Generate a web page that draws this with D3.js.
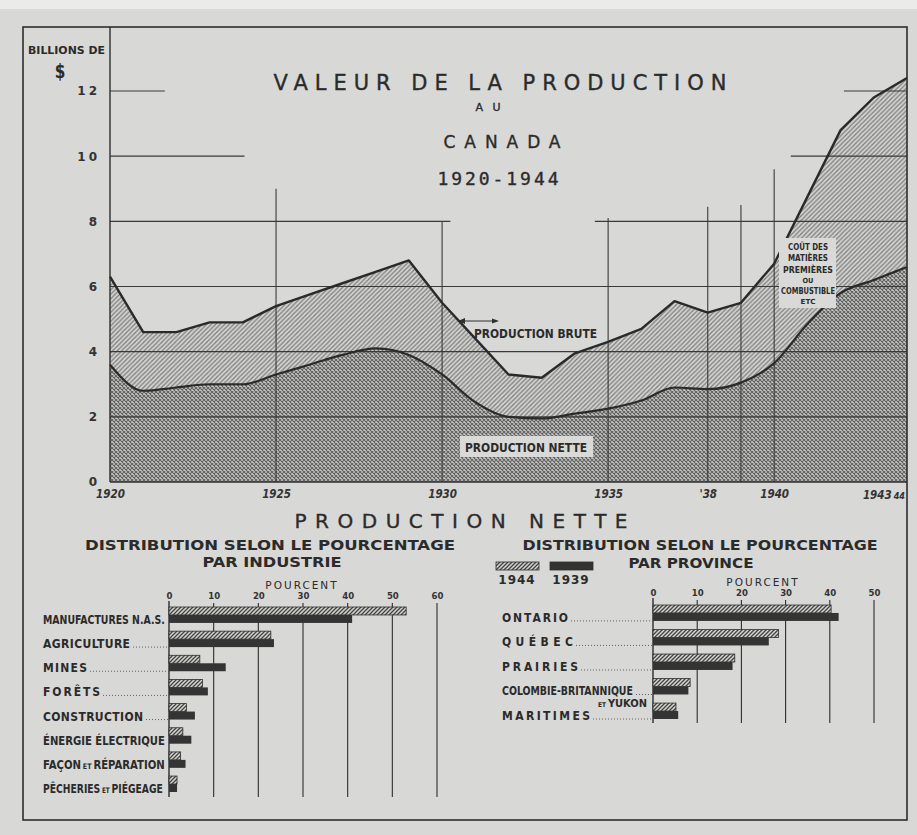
<!DOCTYPE html>
<html>
<head>
<meta charset="utf-8">
<script src="https://cdn.jsdelivr.net/npm/d3@7"></script>
<style>
  body { margin: 0; background: #d8d8d6; }
  svg { display: block; }
  .cond { font-family: 'DejaVu Sans Condensed', 'DejaVu Sans', sans-serif; font-stretch: condensed; font-weight: bold; fill: #2b2b2b; }
  .wide { font-family: 'DejaVu Sans', sans-serif; fill: #2b2b2b; }
</style>
</head>
<body>
<svg id="chart" width="917" height="835"></svg>
<script>
// --- data (billions de $) ---
const years = [1920, 1921, 1922, 1923, 1924, 1925, 1926, 1927, 1928, 1929, 1930, 1931, 1932,
  1933, 1934, 1935, 1936, 1937, 1938, 1939, 1940, 1941, 1942, 1943, 1944];
const grossValues = [6.3, 4.6, 4.6, 4.9, 4.9, 5.4, 5.75, 6.1, 6.45, 6.8, 5.5, 4.4, 3.3,
  3.2, 3.95, 4.3, 4.7, 5.55, 5.2, 5.5, 6.7, 8.75, 10.8, 11.8, 12.4];
const netValues = [3.6, 2.8, 2.9, 3.0, 3.0, 3.3, 3.6, 3.9, 4.1, 3.9, 3.3, 2.45, 2.0,
  1.95, 2.1, 2.25, 2.5, 2.9, 2.85, 3.05, 3.65, 4.85, 5.8, 6.2, 6.6];
const yTicks = [0, 2, 4, 6, 8, 10, 12];
const xTickYears = [1920, 1925, 1930, 1935, 1938, 1940];
const xTickLabels = ['1920', '1925', '1930', '1935', "'38", '1940'];

// percent of net production, by industry
const industries = ['MANUFACTURES N.A.S.', 'AGRICULTURE', 'MINES', 'FORÊTS', 'CONSTRUCTION',
  'ÉNERGIE ÉLECTRIQUE', 'FAÇON ET RÉPARATION', 'PÊCHERIES ET PIÉGEAGE'];
const industry1944 = [53.1, 22.8, 6.9, 7.5, 3.9, 3.1, 2.6, 1.8];
const industry1939 = [41.0, 23.5, 12.7, 8.7, 5.8, 5.0, 3.7, 1.8];
const industryTicks = [0, 10, 20, 30, 40, 50, 60];

// percent of net production, by province
const provinces = ['ONTARIO', 'QUÉBEC', 'PRAIRIES', 'COLOMBIE-BRITANNIQUE ET YUKON', 'MARITIMES'];
const province1944 = [40.3, 28.4, 18.5, 8.4, 5.2];
const province1939 = [42.0, 26.2, 18.0, 8.0, 5.7];
const provinceTicks = [0, 10, 20, 30, 40, 50];

const ink = '#2e2e2e';
const svg = d3.select('#chart');
const defs = svg.append('defs');

// diagonal hatch for "cout des matieres"
const hatch = defs.append('pattern')
  .attr('id', 'hatch')
  .attr('patternUnits', 'userSpaceOnUse')
  .attr('width', 4.5)
  .attr('height', 4.5);
hatch.append('rect').attr('width', 4.5).attr('height', 4.5).attr('fill', '#d3d3d1');
hatch.append('path')
  .attr('d', 'M-1,1 l2,-2 M0,4.5 l4.5,-4.5 M3.5,5.5 l2,-2')
  .attr('stroke', '#7c7c7c')
  .attr('stroke-width', 1.2);

// fine crosshatch for net production
const cross = defs.append('pattern')
  .attr('id', 'cross')
  .attr('patternUnits', 'userSpaceOnUse')
  .attr('width', 4)
  .attr('height', 4);
cross.append('rect').attr('width', 4).attr('height', 4).attr('fill', '#c8c8c6');
cross.append('path')
  .attr('d', 'M0,0 L4,4 M4,0 L0,4')
  .attr('stroke', '#626262')
  .attr('stroke-width', 1.1);

// denser hatch for the 1944 bars
const barHatch = defs.append('pattern')
  .attr('id', 'bar-hatch')
  .attr('patternUnits', 'userSpaceOnUse')
  .attr('width', 4)
  .attr('height', 4);
barHatch.append('rect').attr('width', 4).attr('height', 4).attr('fill', '#d4d4d2');
barHatch.append('path')
  .attr('d', 'M-1,1 l2,-2 M0,4 l4,-4 M3,5 l2,-2')
  .attr('stroke', '#444')
  .attr('stroke-width', 1.3);

// lighter strip at the very top of the scan
svg.append('rect').attr('width', 917).attr('height', 9).attr('fill', '#ebebea');

// ---------- main chart ----------
const x = d3.scaleLinear().domain([1920, 1944]).range([110, 907]);
const y = d3.scaleLinear().domain([0, 12]).range([482, 91]);

const series = years.map((yr, i) => ({ year: yr, gross: grossValues[i], net: netValues[i] }));

const grossArea = d3.area()
  .x((d) => x(d.year))
  .y0(y(0))
  .y1((d) => y(d.gross));
const netArea = d3.area()
  .curve(d3.curveMonotoneX)
  .x((d) => x(d.year))
  .y0(y(0))
  .y1((d) => y(d.net));

// gross area is drawn to the axis, net sits on top of it
svg.append('path')
  .datum(series)
  .attr('d', grossArea)
  .attr('fill', 'url(#hatch)');
svg.append('path')
  .datum(series)
  .attr('d', netArea)
  .attr('fill', 'url(#cross)');

// grid: horizontal lines are broken around the title
const hGrid = [
  [2, 1920, 1944], [4, 1920, 1944], [6, 1920, 1944],
  [8, 1920, 1930.25], [8, 1934.6, 1944],
  [10, 1920, 1924.05], [10, 1940.5, 1944],
  [12, 1920, 1921.65], [12, 1942.1, 1944],
];
svg.append('g')
  .selectAll('line')
  .data(hGrid)
  .join('line')
  .attr('x1', (d) => x(d[1]))
  .attr('x2', (d) => x(d[2]))
  .attr('y1', (d) => y(d[0]))
  .attr('y2', (d) => y(d[0]))
  .attr('stroke', '#3a3a3a')
  .attr('stroke-width', 1.1);

const vGrid = [[1925, 9.0], [1930, 8.0], [1935, 8.1], [1938, 8.45], [1939, 8.5], [1940, 9.6]];
svg.append('g')
  .selectAll('line')
  .data(vGrid)
  .join('line')
  .attr('x1', (d) => x(d[0]))
  .attr('x2', (d) => x(d[0]))
  .attr('y1', (d) => y(d[1]))
  .attr('y2', y(0))
  .attr('stroke', '#3a3a3a')
  .attr('stroke-width', 1.1);

// outlines
svg.append('path')
  .datum(series)
  .attr('d', d3.line().x((d) => x(d.year)).y((d) => y(d.gross)))
  .attr('fill', 'none')
  .attr('stroke', '#2a2a2a')
  .attr('stroke-width', 2.4)
  .attr('stroke-linejoin', 'round');
svg.append('path')
  .datum(series)
  .attr('d', d3.line().curve(d3.curveMonotoneX).x((d) => x(d.year)).y((d) => y(d.net)))
  .attr('fill', 'none')
  .attr('stroke', '#2a2a2a')
  .attr('stroke-width', 2.2);

// frame
svg.append('rect')
  .attr('x', 23).attr('y', 27)
  .attr('width', 884).attr('height', 793)
  .attr('fill', 'none')
  .attr('stroke', ink)
  .attr('stroke-width', 1.6);
svg.append('line')
  .attr('x1', 110).attr('x2', 110)
  .attr('y1', 27).attr('y2', y(0))
  .attr('stroke', ink).attr('stroke-width', 1.4);
svg.append('line')
  .attr('x1', 110).attr('x2', 907)
  .attr('y1', y(0)).attr('y2', y(0))
  .attr('stroke', ink).attr('stroke-width', 1.6);

// y axis
const yAxis = svg.append('g')
  .attr('transform', 'translate(110,0)')
  .call(d3.axisLeft(y).tickValues(yTicks).tickSize(0).tickPadding(10));
yAxis.select('.domain').remove();
yAxis.selectAll('text')
  .attr('font-family', "'DejaVu Sans', sans-serif")
  .attr('font-weight', 'bold')
  .attr('font-size', 12)
  .attr('letter-spacing', 3)
  .attr('fill', '#333');

svg.append('text')
  .attr('class', 'cond')
  .attr('x', 28).attr('y', 54)
  .attr('font-size', 10.5)
  .attr('textLength', 77)
  .attr('lengthAdjust', 'spacingAndGlyphs')
  .text('BILLIONS DE');
svg.append('text')
  .attr('class', 'cond')
  .attr('x', 60).attr('y', 78)
  .attr('text-anchor', 'middle')
  .attr('font-size', 17)
  .attr('transform', 'translate(0,-12) scale(1,1.15)')
  .text('$');

// x axis
const xAxis = svg.append('g')
  .attr('transform', `translate(0,${y(0)})`)
  .call(d3.axisBottom(x)
    .tickValues(xTickYears)
    .tickFormat((d, i) => xTickLabels[i])
    .tickSize(0)
    .tickPadding(8));
xAxis.select('.domain').remove();
xAxis.selectAll('text')
  .attr('font-family', "'DejaVu Sans Condensed', sans-serif")
  .attr('font-style', 'italic')
  .attr('font-weight', 'bold')
  .attr('font-size', 11.5)
  .attr('fill', '#333')
  .attr('dy', '0.72em');
const lastTick = svg.append('text')
  .attr('x', x(1944) - 2)
  .attr('y', y(0) + 17)
  .attr('text-anchor', 'end')
  .attr('font-family', "'DejaVu Sans Condensed', sans-serif")
  .attr('font-style', 'italic')
  .attr('font-weight', 'bold')
  .attr('font-size', 11.5)
  .attr('fill', '#333')
  .text('1943');
lastTick.append('tspan').attr('font-size', 9).attr('dx', 2).text('44');

// titles: letter-spaced, glyphs kept at natural width
function title(txt, cx, by, size, len, family) {
  return svg.append('text')
    .attr('x', cx).attr('y', by)
    .attr('text-anchor', 'middle')
    .attr('font-family', family || "'DejaVu Sans', sans-serif")
    .attr('font-size', size)
    .attr('fill', '#2b2b2b')
    .attr('stroke', '#2b2b2b')
    .attr('stroke-width', 0.35)
    .attr('textLength', len)
    .attr('lengthAdjust', 'spacing')
    .text(txt);
}
title('VALEUR DE LA PRODUCTION', 500, 90, 21, 453);
title('AU', 488, 111, 11, 25);
title('CANADA', 502, 148, 17, 117);
title('1920-1944', 498, 185, 18, 121, "'DejaVu Sans Mono', monospace");

// in-chart labels
svg.append('text')
  .attr('class', 'cond')
  .attr('x', 474).attr('y', 338)
  .attr('font-size', 12)
  .attr('textLength', 123)
  .attr('lengthAdjust', 'spacingAndGlyphs')
  .text('PRODUCTION BRUTE');
svg.append('line')
  .attr('x1', 460).attr('x2', 497)
  .attr('y1', 321).attr('y2', 321)
  .attr('stroke', ink).attr('stroke-width', 1.2);
svg.append('path')
  .attr('d', 'M458,321 l7,-3 l0,6 Z M499,321 l-7,-2.5 l0,5 Z')
  .attr('fill', ink);

svg.append('rect')
  .attr('x', 460).attr('y', 436)
  .attr('width', 133).attr('height', 21)
  .attr('fill', '#d9d9d7');
svg.append('text')
  .attr('class', 'cond')
  .attr('x', 465).attr('y', 452)
  .attr('font-size', 12)
  .attr('textLength', 122)
  .attr('lengthAdjust', 'spacingAndGlyphs')
  .text('PRODUCTION NETTE');

svg.append('rect')
  .attr('x', 779).attr('y', 238)
  .attr('width', 57).attr('height', 70)
  .attr('fill', '#d9d9d7');
const costLines = [['COÛT DES', 250, 9.5, 40], ['MATIÈRES', 261, 9.5, 40], ['PREMIÈRES', 273, 9.5, 50],
  ['OU', 283, 7, 11], ['COMBUSTIBLE', 294, 9.5, 54], ['ETC', 304, 7, 15]];
svg.append('g')
  .selectAll('text')
  .data(costLines)
  .join('text')
  .attr('class', 'cond')
  .attr('x', 808)
  .attr('y', (d) => d[1])
  .attr('text-anchor', 'middle')
  .attr('font-size', (d) => d[2])
  .attr('textLength', (d) => d[3])
  .attr('lengthAdjust', 'spacingAndGlyphs')
  .text((d) => d[0]);

// ---------- lower section ----------
title('PRODUCTION NETTE', 461, 528, 20, 333);

function subTitle(txt, cx, by, len) {
  svg.append('text')
    .attr('class', 'cond')
    .attr('x', cx).attr('y', by)
    .attr('text-anchor', 'middle')
    .attr('font-size', 14)
    .attr('textLength', len)
    .attr('lengthAdjust', 'spacingAndGlyphs')
    .text(txt);
}
subTitle('DISTRIBUTION SELON LE POURCENTAGE', 270, 550, 370);
subTitle('PAR INDUSTRIE', 272, 567, 139);
subTitle('DISTRIBUTION SELON LE POURCENTAGE', 700, 550, 355);
subTitle('PAR PROVINCE', 691, 568, 125);

// legend
const legendKeys = ['1944', '1939'];
const legend = svg.append('g')
  .selectAll('g')
  .data(legendKeys)
  .join('g')
  .attr('transform', (d, i) => `translate(${496 + i * 54},562)`);
legend.append('rect')
  .attr('width', 43).attr('height', 8)
  .attr('fill', (d, i) => (i === 0 ? 'url(#bar-hatch)' : '#333'))
  .attr('stroke', ink).attr('stroke-width', 0.8);
legend.append('text')
  .attr('class', 'wide')
  .attr('x', 21).attr('y', 22)
  .attr('text-anchor', 'middle')
  .attr('font-weight', 'bold')
  .attr('font-size', 12)
  .attr('letter-spacing', 1)
  .text((d) => d);

function barChart(opts) {
  const g = svg.append('g');
  const bx = d3.scaleLinear().domain([0, opts.ticks[opts.ticks.length - 1]]).range(opts.xRange);
  const by = d3.scaleBand().domain(opts.cats).range(opts.yRange).paddingInner(opts.pad);
  const half = by.bandwidth() / 2;

  g.append('text')
    .attr('class', 'wide')
    .attr('x', opts.titleX).attr('y', opts.titleY)
    .attr('text-anchor', 'middle')
    .attr('font-size', 10.5)
    .attr('letter-spacing', 2)
    .text('POURCENT');

  const axis = g.append('g')
    .attr('transform', `translate(0,${opts.tickY})`)
    .call(d3.axisTop(bx).tickValues(opts.ticks).tickSize(0).tickPadding(0));
  axis.select('.domain').remove();
  axis.selectAll('text')
    .attr('font-family', "'DejaVu Sans Condensed', sans-serif")
    .attr('font-weight', 'bold')
    .attr('font-size', 9.5)
    .attr('fill', '#333');

  g.append('g')
    .selectAll('line')
    .data(opts.ticks)
    .join('line')
    .attr('x1', (d) => bx(d))
    .attr('x2', (d) => bx(d))
    .attr('y1', (d) => (d === 0 ? opts.tickY + 2 : opts.tickY + 4))
    .attr('y2', opts.gridBottom)
    .attr('stroke', ink)
    .attr('stroke-width', (d) => (d === 0 ? 1.4 : 1.1));

  const rows = opts.cats.map((c, i) => ({ cat: c, a: opts.vA[i], b: opts.vB[i] }));
  g.append('g')
    .selectAll('rect')
    .data(rows)
    .join('rect')
    .attr('x', bx(0))
    .attr('y', (d) => by(d.cat))
    .attr('width', (d) => bx(d.a) - bx(0))
    .attr('height', half)
    .attr('fill', 'url(#bar-hatch)')
    .attr('stroke', ink)
    .attr('stroke-width', 0.8);
  g.append('g')
    .selectAll('rect')
    .data(rows)
    .join('rect')
    .attr('x', bx(0))
    .attr('y', (d) => by(d.cat) + half)
    .attr('width', (d) => bx(d.b) - bx(0))
    .attr('height', half)
    .attr('fill', '#343434');

  // category labels, fitted to the printed widths, with dotted leaders
  rows.forEach((d, i) => {
    const base = by(d.cat) + by.bandwidth() + 1;
    const parts = d.cat.split(' ET ');
    const t = g.append('text')
      .attr('class', 'cond')
      .attr('transform', `translate(${opts.labelX},${base})`)
      .attr('font-size', 12);
    let extra = 0;
    if (parts.length === 2 && parts[1] === 'YUKON') {
      t.text(parts[0]);
      g.append('text')
        .attr('class', 'cond')
        .attr('x', bx(0) - 6).attr('y', base + 12)
        .attr('text-anchor', 'end')
        .attr('font-size', 11)
        .call((s) => s.append('tspan').attr('font-size', 6.5).text('ET '))
        .call((s) => s.append('tspan').text(parts[1]));
    } else if (parts.length === 2) {
      t.append('tspan').text(parts[0]);
      t.append('tspan').attr('font-size', 7.5).attr('dx', 2).text('ET');
      t.append('tspan').attr('dx', 2).text(parts[1]);
      extra = 4;
    } else {
      t.text(d.cat);
    }
    const natural = t.node().getComputedTextLength() + extra;
    if (natural > opts.widths[i]) {
      // squeeze the whole label horizontally
      t.attr('transform', `translate(${opts.labelX},${base}) scale(${opts.widths[i] / natural},1)`);
    } else {
      t.attr('textLength', opts.widths[i]).attr('lengthAdjust', 'spacing');
    }
    const end = opts.labelX + opts.widths[i] + 3;
    if (end < bx(0) - 4) {
      g.append('line')
        .attr('x1', end).attr('x2', bx(0))
        .attr('y1', base - 1).attr('y2', base - 1)
        .attr('stroke', '#555')
        .attr('stroke-width', 0.9)
        .attr('stroke-dasharray', '1,2');
    }
  });
}

barChart({
  cats: industries, vA: industry1944, vB: industry1939, ticks: industryTicks,
  xRange: [169, 437], yRange: [607, 792], pad: 0.34,
  titleX: 302, titleY: 589, tickY: 599, gridBottom: 797,
  labelX: 43, widths: [122, 87, 44, 57, 100, 122, 122, 120],
});
barChart({
  cats: provinces, vA: province1944, vB: province1939, ticks: provinceTicks,
  xRange: [653, 874], yRange: [605, 719], pad: 0.35,
  titleX: 763, titleY: 586, tickY: 596, gridBottom: 723,
  labelX: 502, widths: [66, 71, 76, 131, 88],
});
</script>
</body>
</html>
